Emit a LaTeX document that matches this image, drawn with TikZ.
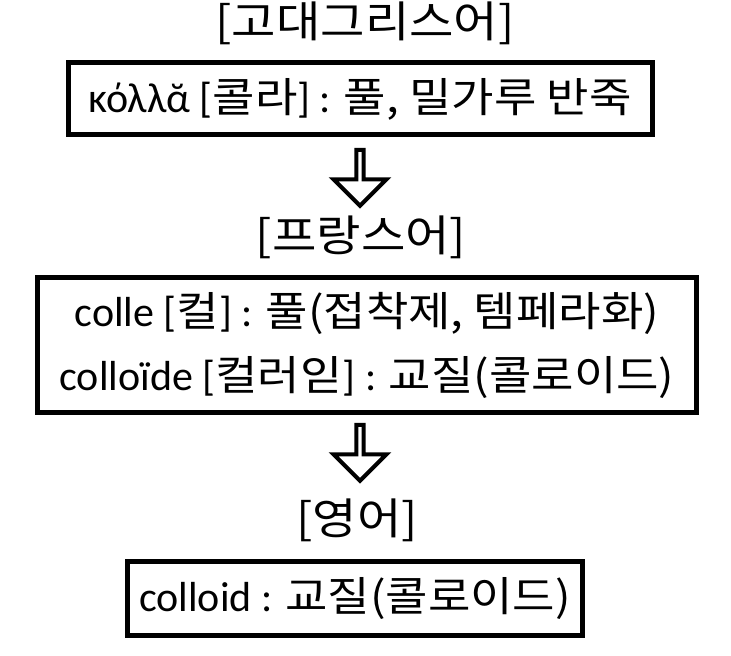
\documentclass[tikz,border=0pt]{standalone}
\usepackage{fontspec}
\setmainfont{Carlito}
\newfontfamily\kr[Scale=0.98, FakeStretch=1.12]{Noto Sans CJK KR}
\usetikzlibrary{shapes.arrows}

\begin{document}
\begin{tikzpicture}[
    x=1pt, y=1pt,
    font=\fontsize{42}{64}\selectfont,
    langlabel/.style={inner sep=0pt, anchor=base, font=\fontsize{44}{64}\selectfont\kr},
    wordbox/.style={draw, line width=5pt, align=center, inner sep=0pt},
    downarrow/.style={draw, line width=4pt, single arrow, rotate=-90, inner sep=0pt,
      minimum width=53pt, minimum height=56pt, single arrow head extend=13pt}
  ]
    \useasboundingbox (0,0) rectangle (731,656);

    \node[langlabel] (greek) at (365,618) {[고대그리스어]};
    \node[wordbox, minimum width=584pt, minimum height=72pt] (kolla) at (360,557)
      {κόλλᾰ [{\kr 콜라}] : {\kr 풀, 밀가루 반죽}};
    \node[downarrow] (step1) at (360,480) {};

    \node[langlabel] (french) at (361,404) {[프랑스어]};
    \node[wordbox, minimum width=659pt, minimum height=135pt] (colle) at (367,311)
      {colle [{\kr 컬}] : {\kr 풀(접착제, 템페라화)}\\
       colloïde [{\kr 컬러읻}] : {\kr 교질(콜로이드)}};
    \node[downarrow] (step2) at (360,205) {};

    \node[langlabel] (english) at (357,121) {[영어]};
    \node[wordbox, minimum width=455pt, minimum height=74pt] (colloid) at (355,57)
      {colloid : {\kr 교질(콜로이드)}};
  \end{tikzpicture}
\end{document}
